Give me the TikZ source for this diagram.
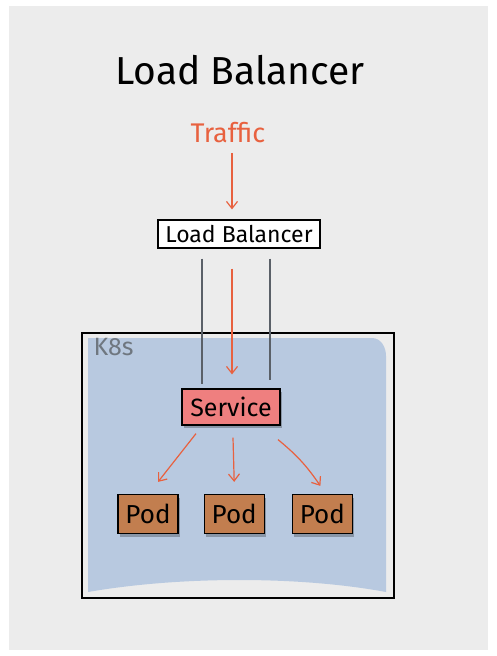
\documentclass[tikz,border=0pt]{standalone}
\usepackage{fontspec}
\setmainfont{Fira Sans}
\usetikzlibrary{positioning,shadows,arrows.meta}
\definecolor{paper}{HTML}{ECECEC}
\definecolor{traffic}{HTML}{E8613F}
\definecolor{cluster}{HTML}{B8C9E0}
\definecolor{svcred}{HTML}{EF7F7F}
\definecolor{podbrown}{HTML}{C27E4F}
\definecolor{wiregray}{HTML}{5A6068}
\definecolor{labelgray}{HTML}{6F7780}

\begin{document}
\begin{tikzpicture}[x=1pt,y=-1pt,
	every node/.style={align=center,font=\fontsize{22}{26}\selectfont},
	box/.style={draw=black,line width=1.2pt,inner sep=0pt},
	boxshadow/.style={drop shadow={shadow xshift=2pt,shadow yshift=-3pt,fill=black,opacity=0.25}},
	podbox/.style={box,boxshadow,fill=podbrown,minimum width=60pt,minimum height=39pt,font=\fontsize{26}{30}\selectfont},
	flow/.style={draw=traffic,line width=1.2pt,-{Straight Barb[length=7pt,width=11pt]}},
	wire/.style={draw=wiregray,line width=1.2pt}]
	% sheet
	\fill[white] (0,0) rectangle (497,656);
	\fill[paper] (9,6) rectangle (488,650);
	\useasboundingbox (0,0) rectangle (497,656);
	% cluster
	\fill[cluster] (88,338) -- (372,338) to[out=0,in=90] (386,356)
		-- (386,592) .. controls (300,576) and (180,576) .. (88,592) -- cycle;
	\draw[line width=1.3pt] (82,333) rectangle (394,598);
	\node[text=labelgray,anchor=north west,font=\fontsize{25}{30}\selectfont] (k8s) at (90,335) {K8s};

	\node[font=\fontsize{39}{44}\selectfont] (title) at (240,70) {Load Balancer};
	\node[text=traffic,font=\fontsize{27}{32}\selectfont] (traffic) at (228,133) {Traffic};
	\node[box,fill=white,minimum width=162pt,minimum height=28pt,font=\fontsize{23}{27}\selectfont] (lb) at (239,234) {Load Balancer};
	\node[box,boxshadow,fill=svcred,minimum width=98pt,minimum height=36pt,font=\fontsize{25}{29}\selectfont] (svc) at (231,407) {Service};

	\node[podbox] (pod1) at (148,514) {Pod};
	\node[podbox,right=25pt of pod1] (pod2) {Pod};
	\node[podbox,right=27pt of pod2] (pod3) {Pod};

	% traffic path
	\draw[flow,shorten <=6pt,shorten >=10pt] ([xshift=4pt]traffic.south) -- ([xshift=4pt]traffic.south |- lb.north);
	\draw[wire,shorten >=4pt] ([xshift=-37pt,yshift=-10pt]lb.south) -- ([xshift=-37pt]lb.south |- svc.north);
	\draw[wire,shorten >=8pt] ([xshift=31pt,yshift=-10pt]lb.south) -- ([xshift=31pt]lb.south |- svc.north);
	\draw[flow,shorten <=20pt,shorten >=14pt] ([xshift=-7pt]lb.south) -- ([xshift=-7pt]lb.south |- svc.north);

	\draw[flow] ([xshift=-35pt,yshift=-8pt]svc.south) -- ([xshift=10pt,yshift=12pt]pod1.north);
	\draw[flow] ([xshift=2pt,yshift=-12pt]svc.south) -- ([yshift=12pt]pod2.north);
	\draw[flow] ([xshift=47pt,yshift=-14pt]svc.south) to[bend left=8] ([xshift=-2pt,yshift=8pt]pod3.north);
\end{tikzpicture}
\end{document}
